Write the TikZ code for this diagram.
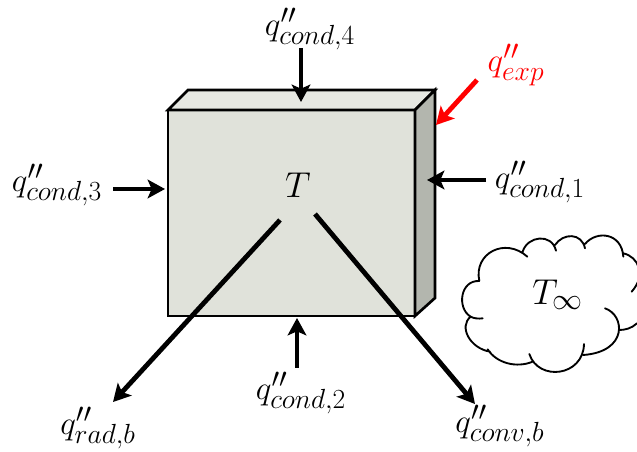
\documentclass[tikz,border=0pt]{standalone}
\usetikzlibrary{arrows.meta}
\DeclareMathSizes{24.88}{24.88}{20.74}{14.4}
\DeclareMathSizes{20.74}{20.74}{17.28}{14.4}
\definecolor{frontc}{HTML}{E0E2DA}
\definecolor{topc}{HTML}{E6E8E2}
\definecolor{sidec}{HTML}{B3B6AE}
\definecolor{expc}{HTML}{FF0000}
\tikzset{
  wall/.style={draw=black,line width=2pt,line join=miter},
  flux/.style={line width=3.6pt,-{Stealth[length=13pt,width=14pt,inset=3pt]}},
  fluxlabel/.style={inner sep=0pt,font=\fontsize{24.88}{28}\selectfont},
  templabel/.style={inner sep=0pt,scale=1.3,font=\fontsize{20.74}{24}\selectfont},
  cloudline/.style={draw=black,line width=1.4pt,line cap=round}
}
\begin{document}
\begin{tikzpicture}[x=0.75pt,y=-0.75pt]
\useasboundingbox (0,0) rectangle (637,452);
% block
\fill[frontc,wall] (168,110) rectangle (415,316);
\fill[topc,wall] (168,110) -- (188,90) -- (435,90) -- (415,110) -- cycle;
\fill[sidec,wall] (415,110) -- (435,90) -- (435,298) -- (415,316) -- cycle;
% labels
\node[fluxlabel] (c4) at (310,29) {$q''_{cond,4}$};
\node[fluxlabel] (c1) at (540,182) {$q''_{cond,1}$};
\node[fluxlabel] (c3) at (57,185) {$q''_{cond,3}$};
\node[fluxlabel] (c2) at (301,393) {$q''_{cond,2}$};
\node[fluxlabel] (rb) at (98,428) {$q''_{rad,b}$};
\node[fluxlabel] (cb) at (500,426) {$q''_{conv,b}$};
\node[fluxlabel,text=expc] (ex) at (516,65) {$q''_{exp}$};
\node[templabel] (T) at (298,185) {$T$};
\node[templabel] (Tinf) at (558,295) {$T_\infty$};
% connector ends
\coordinate (c4s) at (301,48); \coordinate (c4e) at (301,102);
\coordinate (c1s) at (486,180); \coordinate (c1e) at (427,180);
\coordinate (c3s) at (113,189); \coordinate (c3e) at (165,189);
\coordinate (c2s) at (297,368); \coordinate (c2e) at (297,318);
\coordinate (rbs) at (280,220); \coordinate (rbe) at (113,402);
\coordinate (cbs) at (315,214); \coordinate (cbe) at (475,404);
\coordinate (exs) at (477,80); \coordinate (exe) at (436,125);
\draw[flux] (c4s) -- (c4e);
\draw[flux] (c1s) -- (c1e);
\draw[flux] (c3s) -- (c3e);
\draw[flux] (c2s) -- (c2e);
\draw[flux] (rbs) -- (rbe);
\draw[flux] (cbs) -- (cbe);
\draw[flux,expc] (exs) -- (exe);
% cloud
\begin{scope}[shift={(440,220)},x=0.25pt,y=-0.25pt]
\clip (0,0) rectangle (591,470);
\path[cloudline]
  (118,183) .. controls (100,100) and (195,50) .. (262,110)
  (248,95) .. controls (262,48) and (335,38) .. (348,92)
  (345,75) .. controls (370,38) and (425,38) .. (435,85)
  (435,72) .. controls (470,30) and (545,38) .. (550,110)
  (550,100) .. controls (595,110) and (620,165) .. (575,215)
  (591,310) .. controls (575,325) and (555,330) .. (538,330)
  (495,265) .. controls (555,285) and (565,395) .. (430,405)
  (432,372) .. controls (430,470) and (295,485) .. (268,402)
  (278,425) .. controls (230,445) and (170,430) .. (143,388)
  (150,395) .. controls (90,385) and (55,320) .. (92,290)
  (128,295) .. controls (115,297) and (100,295) .. (92,290)
  (92,290) .. controls (50,265) and (60,180) .. (118,183);
\end{scope}
\end{tikzpicture}
\end{document}
